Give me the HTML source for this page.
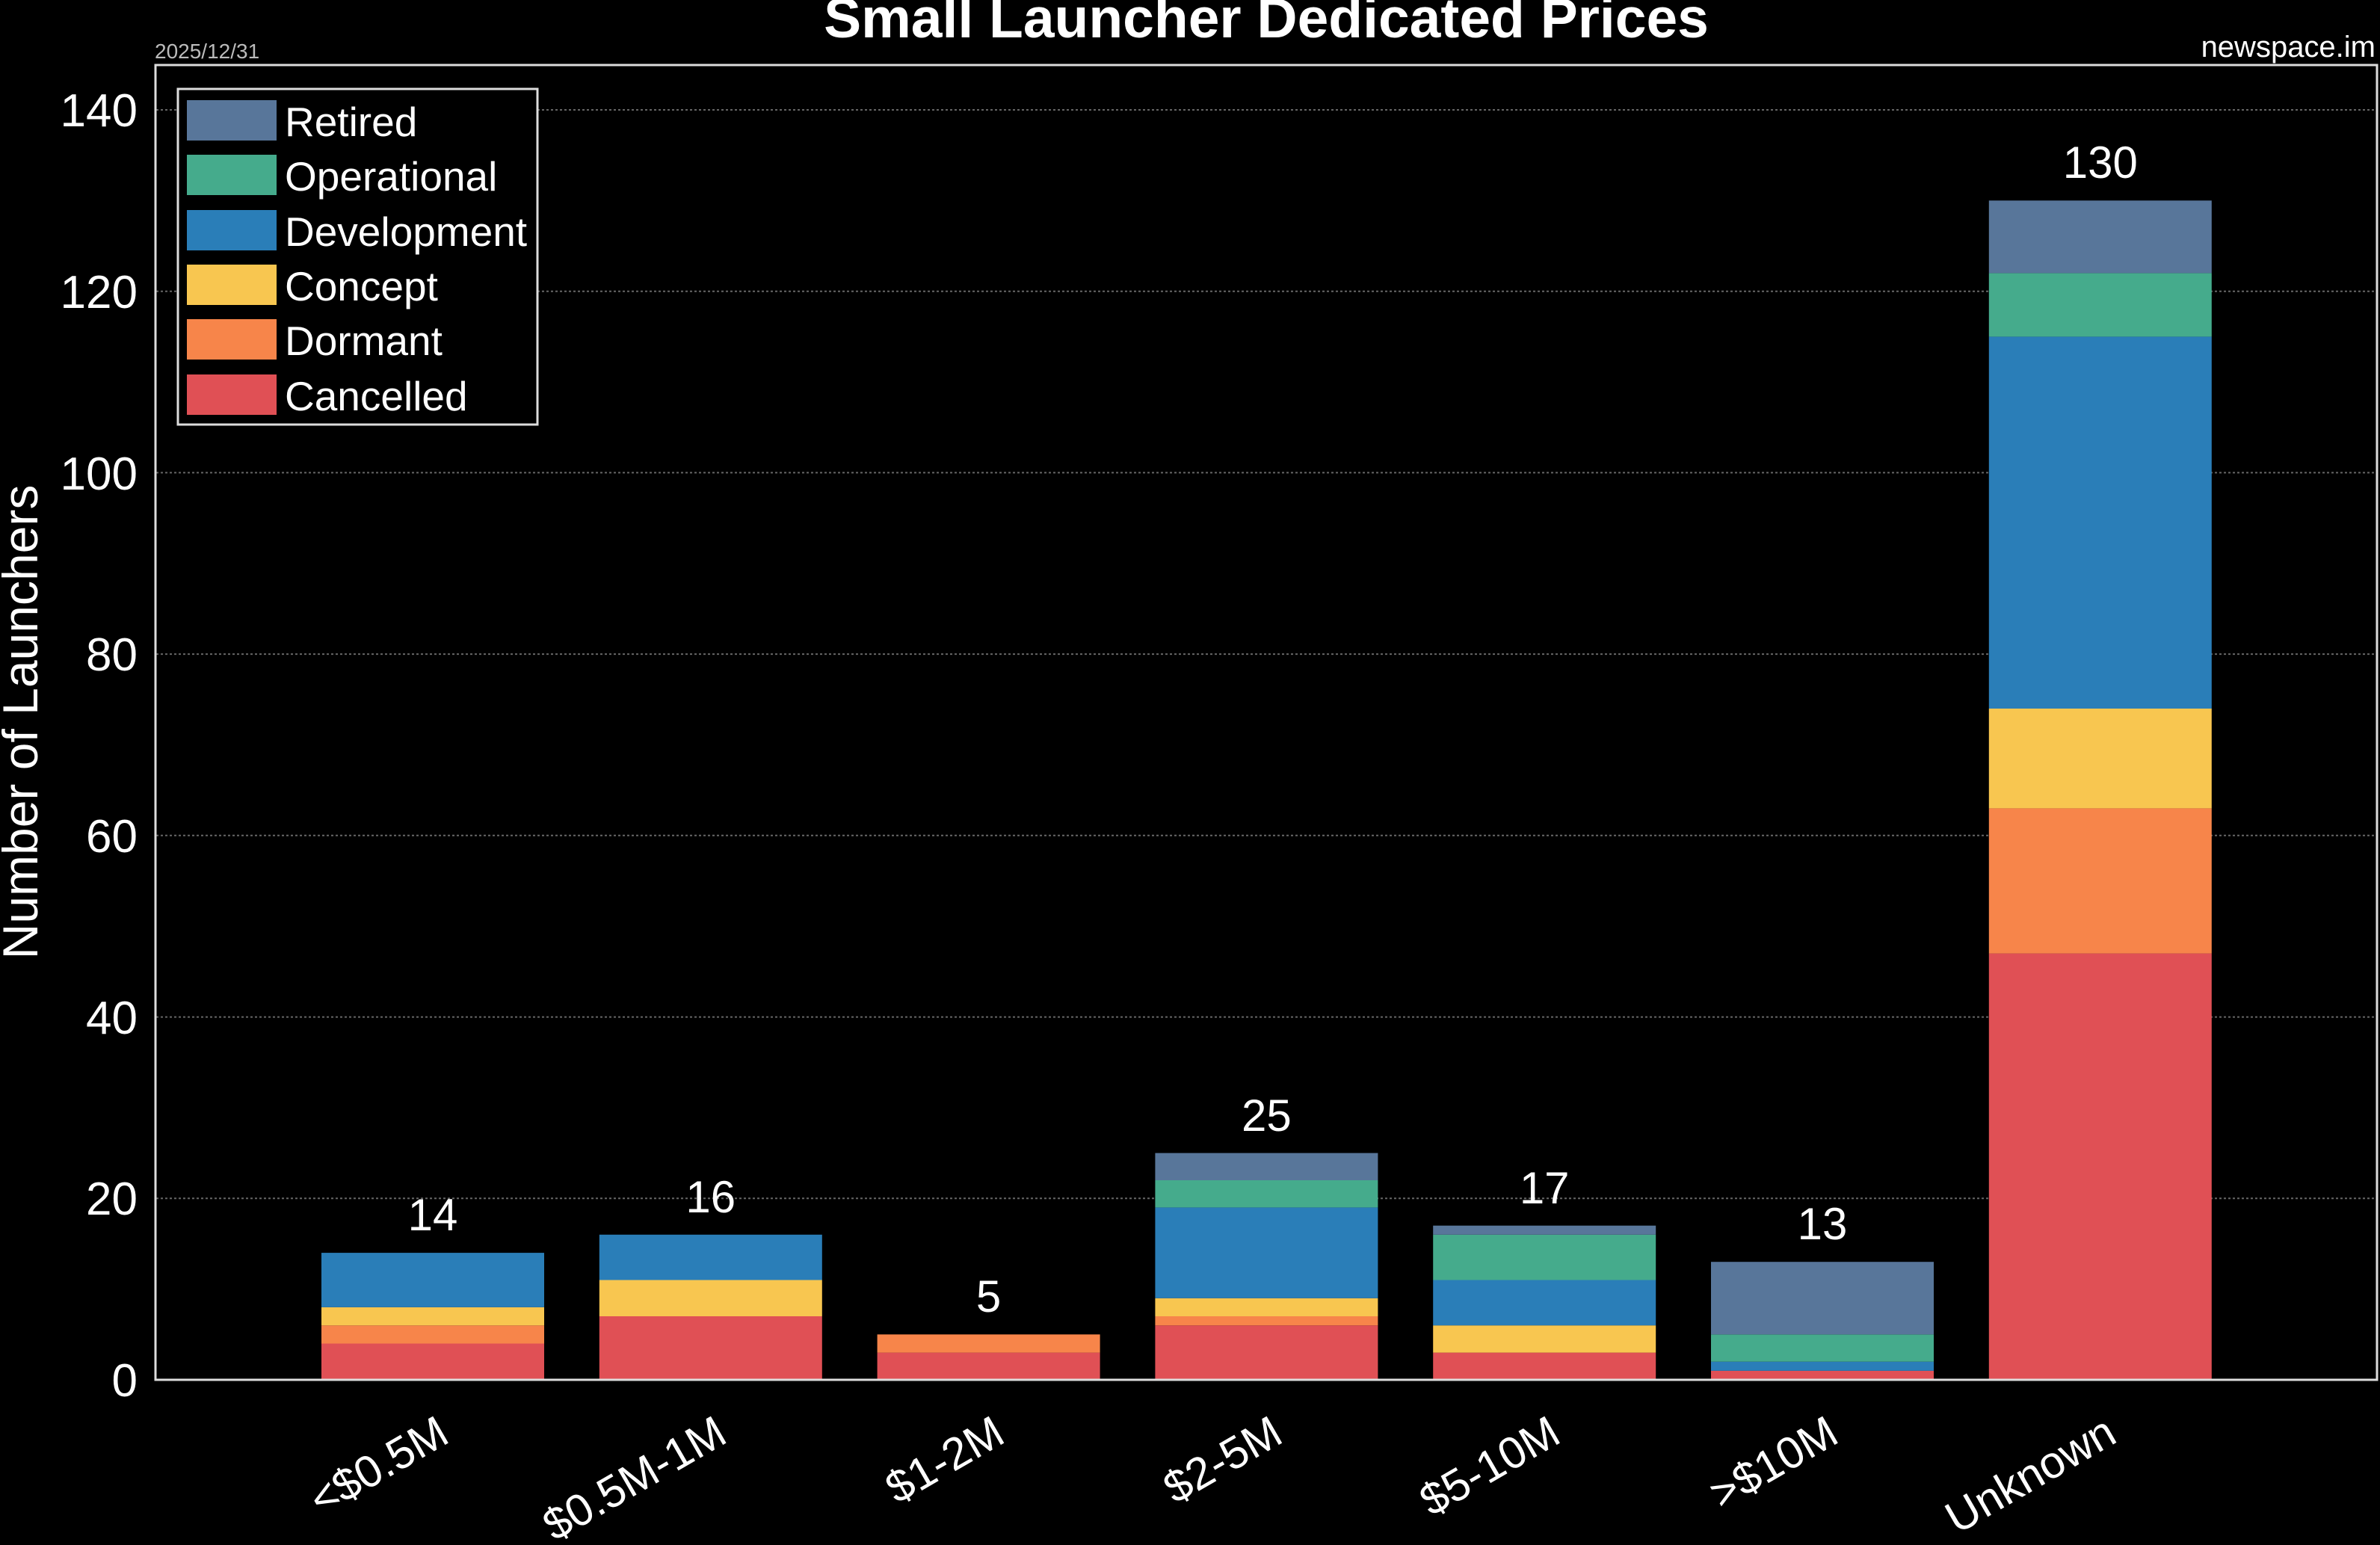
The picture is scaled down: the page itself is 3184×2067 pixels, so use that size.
<!DOCTYPE html>
<html><head><meta charset="utf-8"><style>
html,body{margin:0;padding:0;background:#000;}
svg{display:block;font-family:"Liberation Sans",Arial,sans-serif;}
</style></head><body>
<svg width="3184" height="2067" viewBox="0 0 3184 2067" xmlns="http://www.w3.org/2000/svg">
<rect width="3184" height="2067" fill="#000"/>
<text x="1694" y="50" font-size="75" font-weight="bold" fill="#fff" text-anchor="middle">Small Launcher Dedicated Prices</text>
<text x="207" y="78" font-size="28" fill="#bbb">2025/12/31</text>
<text x="3178" y="76" font-size="40" fill="#fff" text-anchor="end">newspace.im</text>
<g stroke="#666" stroke-width="2" stroke-dasharray="3,3">
<line x1="209" x2="3180" y1="1603.3" y2="1603.3"/>
<line x1="209" x2="3180" y1="1360.6" y2="1360.6"/>
<line x1="209" x2="3180" y1="1117.8" y2="1117.8"/>
<line x1="209" x2="3180" y1="875.1" y2="875.1"/>
<line x1="209" x2="3180" y1="632.4" y2="632.4"/>
<line x1="209" x2="3180" y1="389.7" y2="389.7"/>
<line x1="209" x2="3180" y1="147" y2="147"/>
</g>
<g font-size="62" fill="#fff" text-anchor="end">
<text x="184" y="1868">0</text>
<text x="184" y="1625">20</text>
<text x="184" y="1383">40</text>
<text x="184" y="1140">60</text>
<text x="184" y="897">80</text>
<text x="184" y="655">100</text>
<text x="184" y="412">120</text>
<text x="184" y="169">140</text>
</g>
<text transform="translate(50,966) rotate(-90)" font-size="66" fill="#fff" text-anchor="middle">Number of Launchers</text>

<g>
<rect x="430" y="1797.5" width="298" height="48.5" fill="#e05055"/>
<rect x="430" y="1773.2" width="298" height="24.3" fill="#f7854a"/>
<rect x="430" y="1748.9" width="298" height="24.3" fill="#f8c650"/>
<rect x="430" y="1676.1" width="298" height="72.8" fill="#2a7eb8"/>
<rect x="801.8" y="1761" width="298" height="85" fill="#e05055"/>
<rect x="801.8" y="1712.5" width="298" height="48.5" fill="#f8c650"/>
<rect x="801.8" y="1651.8" width="298" height="60.7" fill="#2a7eb8"/>
<rect x="1173.6" y="1809.6" width="298" height="36.4" fill="#e05055"/>
<rect x="1173.6" y="1785.3" width="298" height="24.3" fill="#f7854a"/>
<rect x="1545.4" y="1773.2" width="298" height="72.8" fill="#e05055"/>
<rect x="1545.4" y="1761" width="298" height="12.2" fill="#f7854a"/>
<rect x="1545.4" y="1736.8" width="298" height="24.2" fill="#f8c650"/>
<rect x="1545.4" y="1615.4" width="298" height="121.4" fill="#2a7eb8"/>
<rect x="1545.4" y="1579" width="298" height="36.4" fill="#45ab8c"/>
<rect x="1545.4" y="1542.6" width="298" height="36.4" fill="#58769a"/>
<rect x="1917.2" y="1809.6" width="298" height="36.4" fill="#e05055"/>
<rect x="1917.2" y="1773.2" width="298" height="36.4" fill="#f8c650"/>
<rect x="1917.2" y="1712.5" width="298" height="60.7" fill="#2a7eb8"/>
<rect x="1917.2" y="1651.8" width="298" height="60.7" fill="#45ab8c"/>
<rect x="1917.2" y="1639.7" width="298" height="12.1" fill="#58769a"/>
<rect x="2289" y="1833.9" width="298" height="12.1" fill="#e05055"/>
<rect x="2289" y="1821.7" width="298" height="12.2" fill="#2a7eb8"/>
<rect x="2289" y="1785.3" width="298" height="36.4" fill="#45ab8c"/>
<rect x="2289" y="1688.2" width="298" height="97.1" fill="#58769a"/>
<rect x="2660.8" y="1275.6" width="298" height="570.4" fill="#e05055"/>
<rect x="2660.8" y="1081.4" width="298" height="194.2" fill="#f7854a"/>
<rect x="2660.8" y="948" width="298" height="133.4" fill="#f8c650"/>
<rect x="2660.8" y="450.4" width="298" height="497.6" fill="#2a7eb8"/>
<rect x="2660.8" y="365.4" width="298" height="85" fill="#45ab8c"/>
<rect x="2660.8" y="268.3" width="298" height="97.1" fill="#58769a"/>
</g>

<g font-size="60" fill="#fff" text-anchor="middle">
<text x="579" y="1646">14</text>
<text x="950.8" y="1622">16</text>
<text x="1322.6" y="1755">5</text>
<text x="1694.4" y="1513">25</text>
<text x="2066.2" y="1610">17</text>
<text x="2438" y="1658">13</text>
<text x="2809.8" y="238">130</text>
</g>

<g font-size="60" fill="#fff" text-anchor="end">
<text transform="translate(604,1928) rotate(-30)">&lt;$0.5M</text>
<text transform="translate(975.8,1928) rotate(-30)">$0.5M-1M</text>
<text transform="translate(1347.6,1928) rotate(-30)">$1-2M</text>
<text transform="translate(1719.4,1928) rotate(-30)">$2-5M</text>
<text transform="translate(2091.2,1928) rotate(-30)">$5-10M</text>
<text transform="translate(2463,1928) rotate(-30)">&gt;$10M</text>
<text transform="translate(2834.8,1928) rotate(-30)">Unknown</text>
</g>

<rect x="208" y="87" width="2972" height="1759" fill="none" stroke="#ddd" stroke-width="3"/>
<rect x="238" y="119" width="481" height="449" fill="#000" stroke="#ddd" stroke-width="3"/>
<g font-size="55" fill="#fff">
<rect x="250" y="134" width="120" height="54" fill="#58769a"/><text x="381" y="182">Retired</text>
<rect x="250" y="207" width="120" height="54" fill="#45ab8c"/><text x="381" y="255">Operational</text>
<rect x="250" y="281" width="120" height="54" fill="#2a7eb8"/><text x="381" y="329">Development</text>
<rect x="250" y="354" width="120" height="54" fill="#f8c650"/><text x="381" y="402">Concept</text>
<rect x="250" y="427" width="120" height="54" fill="#f7854a"/><text x="381" y="475">Dormant</text>
<rect x="250" y="501" width="120" height="54" fill="#e05055"/><text x="381" y="549">Cancelled</text>
</g>
</svg>
</body></html>
